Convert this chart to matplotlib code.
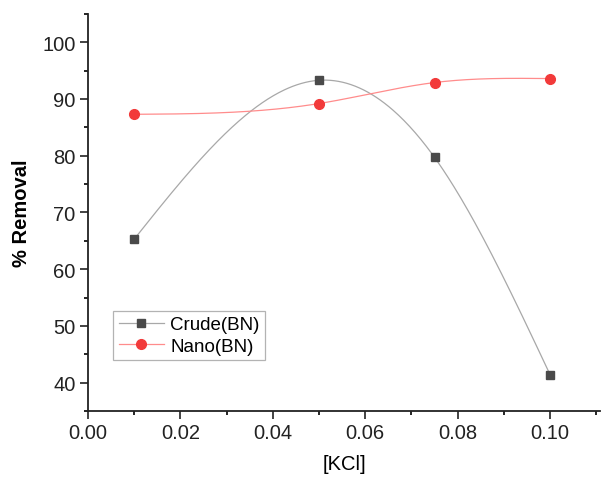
import numpy as np
import matplotlib
matplotlib.use("Agg")
import matplotlib.pyplot as plt
from matplotlib.ticker import MultipleLocator
from matplotlib.lines import Line2D

plt.rcParams['font.family'] = ['Liberation Sans', 'DejaVu Sans']

kcl = [0.01, 0.05, 0.075, 0.10]
crude = [65.3, 93.3, 79.7, 41.4]
nano = [87.3, 89.2, 92.9, 93.6]
xticks = [0.00, 0.02, 0.04, 0.06, 0.08, 0.10]
yticks = [40, 50, 60, 70, 80, 90, 100]


def natural_spline(x, y, n=300):
    x = np.asarray(x, float); y = np.asarray(y, float)
    m = len(x)
    h = np.diff(x)
    A = np.zeros((m, m)); b = np.zeros(m)
    A[0, 0] = 1; A[-1, -1] = 1
    for i in range(1, m - 1):
        A[i, i - 1] = h[i - 1]
        A[i, i] = 2 * (h[i - 1] + h[i])
        A[i, i + 1] = h[i]
        b[i] = 6 * ((y[i + 1] - y[i]) / h[i] - (y[i] - y[i - 1]) / h[i - 1])
    M = np.linalg.solve(A, b)
    xs = np.linspace(x[0], x[-1], n)
    ys = np.empty_like(xs)
    for k, xv in enumerate(xs):
        i = min(np.searchsorted(x, xv, side='right') - 1, m - 2)
        t1 = x[i + 1] - xv; t0 = xv - x[i]
        ys[k] = (M[i] * t1 ** 3 / (6 * h[i]) + M[i + 1] * t0 ** 3 / (6 * h[i])
                 + (y[i] / h[i] - M[i] * h[i] / 6) * t1
                 + (y[i + 1] / h[i] - M[i + 1] * h[i] / 6) * t0)
    return xs, ys


fig = plt.figure(figsize=(6.03, 4.81), dpi=100)
ax = fig.add_axes([0.146, 0.1435, 0.849, 0.8255])

cx, cy = natural_spline(kcl, crude)
nx, ny = natural_spline(kcl, nano)
ax.plot(cx, cy, color='#a8a8a8', lw=0.9)
ax.plot(nx, ny, color='#ff8c8c', lw=0.9)
ax.plot(kcl, crude, 's', color='#4a4a4a', ms=6.3)
ax.plot(kcl, nano, 'o', color='#f23a3a', ms=7)

h1 = Line2D([], [], color='#a8a8a8', lw=0.9, marker='s', mfc='#4a4a4a', mec='#4a4a4a', ms=6.3)
h2 = Line2D([], [], color='#ff8c8c', lw=0.9, marker='o', mfc='#f23a3a', mec='#f23a3a', ms=7)
leg = ax.legend([h1, h2], ['Crude(BN)', 'Nano(BN)'], loc='lower left',
                bbox_to_anchor=(0.049, 0.128), fontsize=13.5, frameon=True,
                fancybox=False, edgecolor='#a0a0a0', handlelength=2.4,
                borderpad=0.3, labelspacing=0.22, handletextpad=0.35,
                borderaxespad=0.0)
leg.get_frame().set_linewidth(0.9)

ax.set_xlim(0.0, 0.1108)
ax.set_ylim(35, 105)
ax.set_xticks(xticks)
ax.set_xticklabels([f"{v:.2f}" for v in xticks])
ax.set_yticks(yticks)
ax.xaxis.set_minor_locator(MultipleLocator(0.01))
ax.yaxis.set_minor_locator(MultipleLocator(5))
ax.tick_params(which='major', direction='out', length=5.5, width=1.2, labelsize=14.5, colors='#222222')
ax.tick_params(which='minor', direction='out', length=3, width=1.2)
for s in ['top', 'right']:
    ax.spines[s].set_visible(False)
for s in ['left', 'bottom']:
    ax.spines[s].set_linewidth(1.3)
    ax.spines[s].set_color('#222222')

ax.set_xlabel('[KCl]', fontsize=14.5, labelpad=8)
ax.set_ylabel('% Removal', fontsize=14.5, fontweight='bold', labelpad=8)

fig.savefig('out.png', dpi=100)
